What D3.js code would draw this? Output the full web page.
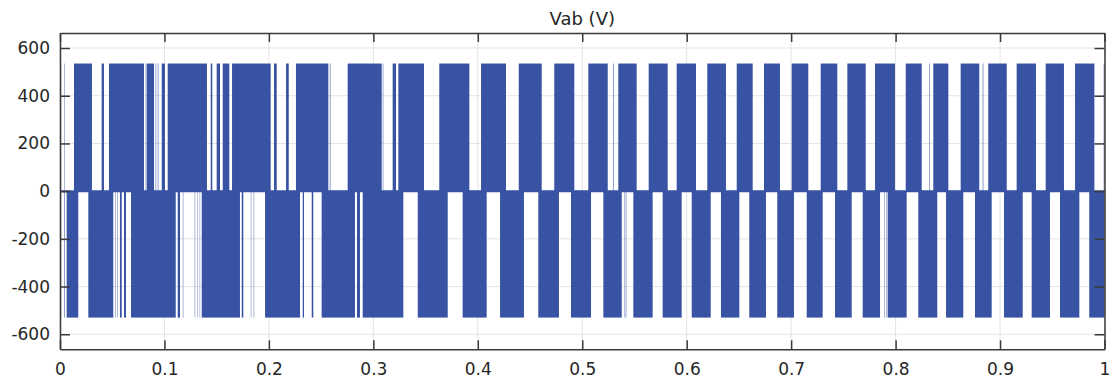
<!DOCTYPE html>
<html>
<head>
<meta charset="utf-8">
<script src="https://cdn.jsdelivr.net/npm/d3@7"></script>
<style>
  body { margin: 0; background: #fff; }
  text { font-family: "DejaVu Sans", sans-serif; fill: #262626; }
</style>
</head>
<body>
<div id="chart"></div>
<script>
// Vab line voltage, PWM pulse groups (seconds)
const amplitude = 535;

const posPulses = [
  [0.0003, 0.0011], [0.0040, 0.0047], [0.0134, 0.0306], [0.0399, 0.0421],
  [0.0469, 0.0804], [0.0819, 0.0826], [0.0830, 0.0900], [0.0910, 0.0916],
  [0.0926, 0.0932], [0.0941, 0.0947], [0.0974, 0.1005], [0.1031, 0.1407],
  [0.1443, 0.1458], [0.1500, 0.1532], [0.1558, 0.1621], [0.1647, 0.2017],
  [0.2049, 0.2075], [0.2164, 0.2190], [0.2259, 0.2569], [0.2582, 0.2592],
  [0.2754, 0.3080], [0.3089, 0.3097], [0.3185, 0.3217], [0.3239, 0.3485],
  [0.3631, 0.3919], [0.4031, 0.4270], [0.4392, 0.4612], [0.4732, 0.4924],
  [0.5058, 0.5244], [0.5294, 0.5304], [0.5345, 0.5521], [0.5636, 0.5818],
  [0.5904, 0.6089], [0.6197, 0.6376], [0.6479, 0.6632], [0.6740, 0.6893],
  [0.7005, 0.7164], [0.7283, 0.7442], [0.7538, 0.7714], [0.7803, 0.7994],
  [0.8097, 0.8250], [0.8320, 0.8329], [0.8361, 0.8505], [0.8623, 0.8801],
  [0.8832, 0.8842], [0.8887, 0.9064], [0.9159, 0.9344], [0.9437, 0.9612],
  [0.9718, 0.9903], [0.9991, 1.0000]
];

const negPulses = [
  [0.0003, 0.0012], [0.0038, 0.0048], [0.0064, 0.0175], [0.0271, 0.0510],
  [0.0527, 0.0534], [0.0546, 0.0553], [0.0574, 0.0591], [0.0613, 0.0632],
  [0.0680, 0.1108], [0.1127, 0.1149], [0.1175, 0.1182], [0.1288, 0.1295],
  [0.1312, 0.1318], [0.1336, 0.1342], [0.1357, 0.1723], [0.1740, 0.1755],
  [0.1826, 0.1833], [0.1853, 0.1860], [0.1963, 0.2298], [0.2324, 0.2336],
  [0.2410, 0.2425], [0.2505, 0.2824], [0.2843, 0.2872], [0.2898, 0.3287],
  [0.3425, 0.3712], [0.3855, 0.4085], [0.4213, 0.4442], [0.4579, 0.4777],
  [0.4892, 0.5084], [0.5202, 0.5378], [0.5403, 0.5411], [0.5416, 0.5423],
  [0.5489, 0.5674], [0.5770, 0.5952], [0.6048, 0.6230], [0.6328, 0.6504],
  [0.6599, 0.6759], [0.6867, 0.7027], [0.7149, 0.7302], [0.7420, 0.7580],
  [0.7685, 0.7851], [0.7889, 0.7896], [0.7908, 0.7915], [0.7924, 0.8106],
  [0.8217, 0.8399], [0.8483, 0.8648], [0.8760, 0.8920], [0.9038, 0.9217],
  [0.9303, 0.9478], [0.9574, 0.9759], [0.9854, 1.0000]
];

const xTicks = [0, 0.1, 0.2, 0.3, 0.4, 0.5, 0.6, 0.7, 0.8, 0.9, 1];
const xTickLabels = ["0", "0.1", "0.2", "0.3", "0.4", "0.5", "0.6", "0.7", "0.8", "0.9", "1"];
const yTicks = [-600, -400, -200, 0, 200, 400, 600];
const title = "Vab (V)";

const W = 1112, H = 382;
const margin = {top: 33, right: 7.5, bottom: 32.7, left: 60};
const width = W - margin.left - margin.right;
const height = H - margin.top - margin.bottom;
const blue = "#3953a4";

const svg = d3.select("#chart").append("svg")
  .attr("width", W)
  .attr("height", H);

const g = svg.append("g")
  .attr("transform", "translate(" + margin.left + "," + margin.top + ")");

const x = d3.scaleLinear().domain([0, 1]).range([0, width]);
const y = d3.scaleLinear().domain([-663, 663]).range([height, 0]);

// grid
g.append("g").selectAll("line").data(xTicks).enter().append("line")
  .attr("x1", d => x(d)).attr("x2", d => x(d))
  .attr("y1", 0).attr("y2", height)
  .attr("stroke", "#e4e4e4").attr("stroke-width", 1);
g.append("g").selectAll("line").data(yTicks).enter().append("line")
  .attr("x1", 0).attr("x2", width)
  .attr("y1", d => y(d)).attr("y2", d => y(d))
  .attr("stroke", "#e4e4e4").attr("stroke-width", 1);

// zero level of the trace
g.append("line")
  .attr("x1", x(0)).attr("x2", x(1))
  .attr("y1", y(0)).attr("y2", y(0))
  .attr("stroke", blue).attr("stroke-width", 2);

// single switching edges show up paler than the dense blocks
const pulseOpacity = d => (x(d[1]) - x(d[0]) < 1.2 ? 0.55 : 1);

g.append("g").selectAll("rect").data(posPulses).enter().append("rect")
  .attr("x", d => x(d[0]))
  .attr("width", d => x(d[1]) - x(d[0]))
  .attr("y", y(amplitude))
  .attr("height", y(0) - y(amplitude))
  .attr("fill", blue)
  .attr("fill-opacity", pulseOpacity);

g.append("g").selectAll("rect").data(negPulses).enter().append("rect")
  .attr("x", d => x(d[0]))
  .attr("width", d => x(d[1]) - x(d[0]))
  .attr("y", y(0))
  .attr("height", y(-amplitude + 5) - y(0))
  .attr("fill", blue)
  .attr("fill-opacity", pulseOpacity);

// axes, ticks pointing inward on all four sides
const axisColor = "#3a3a3a";

const xAxis = g.append("g")
  .attr("transform", "translate(0," + height + ")")
  .call(d3.axisBottom(x).tickValues(xTicks)
    .tickFormat((d, i) => xTickLabels[i])
    .tickSizeInner(-9).tickSizeOuter(0).tickPadding(14));

const yAxis = g.append("g")
  .call(d3.axisLeft(y).tickValues(yTicks)
    .tickFormat(d => String(d))
    .tickSizeInner(-10).tickSizeOuter(0).tickPadding(10));

const xTop = g.append("g")
  .call(d3.axisTop(x).tickValues(xTicks).tickFormat("")
    .tickSizeInner(-9).tickSizeOuter(0));

const yRight = g.append("g")
  .attr("transform", "translate(" + width + ",0)")
  .call(d3.axisRight(y).tickValues(yTicks).tickFormat("")
    .tickSizeInner(-10).tickSizeOuter(0));

[xAxis, yAxis, xTop, yRight].forEach(a => {
  a.select(".domain").attr("stroke", axisColor).attr("stroke-width", 1.5);
  a.selectAll(".tick line").attr("stroke", axisColor).attr("stroke-width", 1.5);
  a.selectAll("text").attr("font-size", 17).attr("fill", "#262626")
    .attr("font-family", "DejaVu Sans, sans-serif");
});

// title
svg.append("text")
  .attr("x", margin.left + width / 2)
  .attr("y", 25)
  .attr("text-anchor", "middle")
  .attr("font-size", 18)
  .text(title);
</script>
</body>
</html>
